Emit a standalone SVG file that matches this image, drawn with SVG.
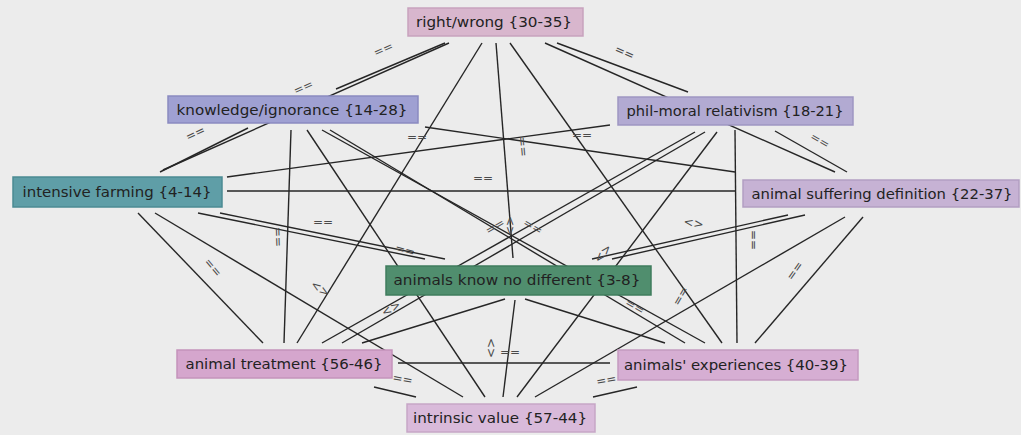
<svg xmlns="http://www.w3.org/2000/svg" width="1021" height="435" viewBox="0 0 1021 435">
<style>
.bg{fill:#ececec}
.e{stroke:#262626;stroke-width:1.4;fill:none}
.lb{font-family:"DejaVu Sans",sans-serif;font-size:12px;fill:#4a4a4a}
.nt{font-family:"DejaVu Sans",sans-serif;font-size:14px;fill:#222}
.box{stroke-width:1.5}
</style>
<rect class="bg" x="0" y="0" width="1021" height="435"/>
<g id="connectors">
<line class="e" x1="445" y1="43" x2="336" y2="89"/>
<line class="e" x1="449" y1="43" x2="163" y2="170"/>
<line class="e" x1="248" y1="128" x2="160" y2="172"/>
<line class="e" x1="557" y1="43" x2="688" y2="92"/>
<line class="e" x1="545" y1="43" x2="835" y2="172"/>
<line class="e" x1="775" y1="131" x2="847" y2="172"/>
<line class="e" x1="496" y1="43" x2="513" y2="258"/>
<line class="e" x1="482" y1="43" x2="297" y2="343"/>
<line class="e" x1="510" y1="43" x2="722" y2="343"/>
<line class="e" x1="291" y1="130" x2="284" y2="343"/>
<line class="e" x1="307" y1="130" x2="485" y2="397"/>
<line class="e" x1="322" y1="130" x2="705" y2="343"/>
<line class="e" x1="330" y1="130" x2="685" y2="343"/>
<line class="e" x1="425" y1="127" x2="735" y2="172"/>
<line class="e" x1="227" y1="177" x2="610" y2="125"/>
<line class="e" x1="227" y1="191" x2="735" y2="191"/>
<line class="e" x1="138" y1="213" x2="263" y2="343"/>
<line class="e" x1="155" y1="213" x2="463" y2="397"/>
<line class="e" x1="198" y1="213" x2="425" y2="259"/>
<line class="e" x1="220" y1="213" x2="445" y2="259"/>
<line class="e" x1="735" y1="130" x2="737" y2="343"/>
<line class="e" x1="717" y1="132" x2="517" y2="397"/>
<line class="e" x1="695" y1="132" x2="322" y2="343"/>
<line class="e" x1="705" y1="132" x2="342" y2="343"/>
<line class="e" x1="845" y1="217" x2="535" y2="397"/>
<line class="e" x1="863" y1="217" x2="755" y2="343"/>
<line class="e" x1="788" y1="215" x2="592" y2="259"/>
<line class="e" x1="805" y1="215" x2="612" y2="259"/>
<line class="e" x1="505" y1="299" x2="362" y2="343"/>
<line class="e" x1="525" y1="299" x2="665" y2="343"/>
<line class="e" x1="515" y1="300" x2="503" y2="397"/>
<line class="e" x1="374" y1="387" x2="416" y2="397"/>
<line class="e" x1="637" y1="387" x2="593" y2="397"/>
<line class="e" x1="398" y1="363" x2="610" y2="363"/>
</g>
<g id="labels">
<text class="lb" transform="translate(385,53) rotate(-24)" text-anchor="middle">==</text>
<text class="lb" transform="translate(197,137) rotate(-25)" text-anchor="middle">==</text>
<text class="lb" transform="translate(305,91) rotate(-24)" text-anchor="middle">==</text>
<text class="lb" transform="translate(623,56) rotate(24)" text-anchor="middle">==</text>
<text class="lb" transform="translate(818,144) rotate(30)" text-anchor="middle">==</text>
<text class="lb" transform="translate(417,141)" text-anchor="middle">==</text>
<text class="lb" transform="translate(582,139)" text-anchor="middle">==</text>
<text class="lb" transform="translate(519,147) rotate(85)" text-anchor="middle">==</text>
<text class="lb" transform="translate(483,182)" text-anchor="middle">==</text>
<text class="lb" transform="translate(274,237) rotate(88)" text-anchor="middle">==</text>
<text class="lb" transform="translate(323,226)" text-anchor="middle">==</text>
<text class="lb" transform="translate(210,270) rotate(50)" text-anchor="middle">==</text>
<text class="lb" transform="translate(318,292) rotate(35)" text-anchor="middle">&lt;&gt;</text>
<text class="lb" transform="translate(393,312) rotate(-30)" text-anchor="middle">&lt;&gt;</text>
<text class="lb" transform="translate(404,254) rotate(15)" text-anchor="middle">==</text>
<text class="lb" transform="translate(497,230) rotate(-30)" text-anchor="middle">==</text>
<text class="lb" transform="translate(514,226) rotate(-90)" text-anchor="middle">&lt;&gt;</text>
<text class="lb" transform="translate(531,230) rotate(30)" text-anchor="middle">==</text>
<text class="lb" transform="translate(606,256) rotate(-50)" text-anchor="middle">&lt;&gt;</text>
<text class="lb" transform="translate(693,227) rotate(10)" text-anchor="middle">&lt;&gt;</text>
<text class="lb" transform="translate(750,240) rotate(90)" text-anchor="middle">==</text>
<text class="lb" transform="translate(798,273) rotate(-55)" text-anchor="middle">==</text>
<text class="lb" transform="translate(684,298) rotate(-60)" text-anchor="middle">==</text>
<text class="lb" transform="translate(633,310) rotate(30)" text-anchor="middle">==</text>
<text class="lb" transform="translate(495,348) rotate(-90)" text-anchor="middle">&lt;&gt;</text>
<text class="lb" transform="translate(510,356)" text-anchor="middle">==</text>
<text class="lb" transform="translate(402,383) rotate(10)" text-anchor="middle">==</text>
<text class="lb" transform="translate(607,384) rotate(-10)" text-anchor="middle">==</text>
</g>
<g id="n-rw"><rect class="box" x="408" y="8" width="175" height="28" fill="#d8b6cd" stroke="#c7a2bd"/><text class="nt" x="494" y="27" text-anchor="middle" textLength="156" lengthAdjust="spacingAndGlyphs">right/wrong {30-35}</text></g>
<g id="n-ki"><rect class="box" x="168" y="96" width="250" height="27" fill="#9fa0d2" stroke="#8a8ac0"/><text class="nt" x="292" y="115" text-anchor="middle" textLength="231" lengthAdjust="spacingAndGlyphs">knowledge/ignorance {14-28}</text></g>
<g id="n-pm"><rect class="box" x="618" y="97" width="235" height="28" fill="#b2aad2" stroke="#9e96c2"/><text class="nt" x="735" y="116" text-anchor="middle" textLength="217" lengthAdjust="spacingAndGlyphs">phil-moral relativism {18-21}</text></g>
<g id="n-if"><rect class="box" x="13" y="177" width="209" height="30" fill="#5f9ea7" stroke="#4b8a93"/><text class="nt" x="117" y="197" text-anchor="middle" textLength="189" lengthAdjust="spacingAndGlyphs">intensive farming {4-14}</text></g>
<g id="n-as"><rect class="box" x="743" y="180" width="276" height="27" fill="#c6b2d4" stroke="#b29ec2"/><text class="nt" x="882" y="199" text-anchor="middle" textLength="261" lengthAdjust="spacingAndGlyphs">animal suffering definition {22-37}</text></g>
<g id="n-ak"><rect class="box" x="386" y="266" width="265" height="29" fill="#508e6e" stroke="#3f7c5d"/><text class="nt" x="517" y="285" text-anchor="middle" textLength="247" lengthAdjust="spacingAndGlyphs" fill="#1d2b24">animals know no different {3-8}</text></g>
<g id="n-at"><rect class="box" x="177" y="350" width="215" height="28" fill="#d5a6cd" stroke="#c493bb"/><text class="nt" x="284" y="369" text-anchor="middle" textLength="197" lengthAdjust="spacingAndGlyphs">animal treatment {56-46}</text></g>
<g id="n-ae"><rect class="box" x="618" y="350" width="240" height="30" fill="#d6aed3" stroke="#c49ac0"/><text class="nt" x="736" y="370" text-anchor="middle" textLength="224" lengthAdjust="spacingAndGlyphs">animals' experiences {40-39}</text></g>
<g id="n-iv"><rect class="box" x="407" y="404" width="188" height="28" fill="#d9bada" stroke="#c6a6c6"/><text class="nt" x="500" y="423" text-anchor="middle" textLength="174" lengthAdjust="spacingAndGlyphs">intrinsic value {57-44}</text></g>
</svg>
